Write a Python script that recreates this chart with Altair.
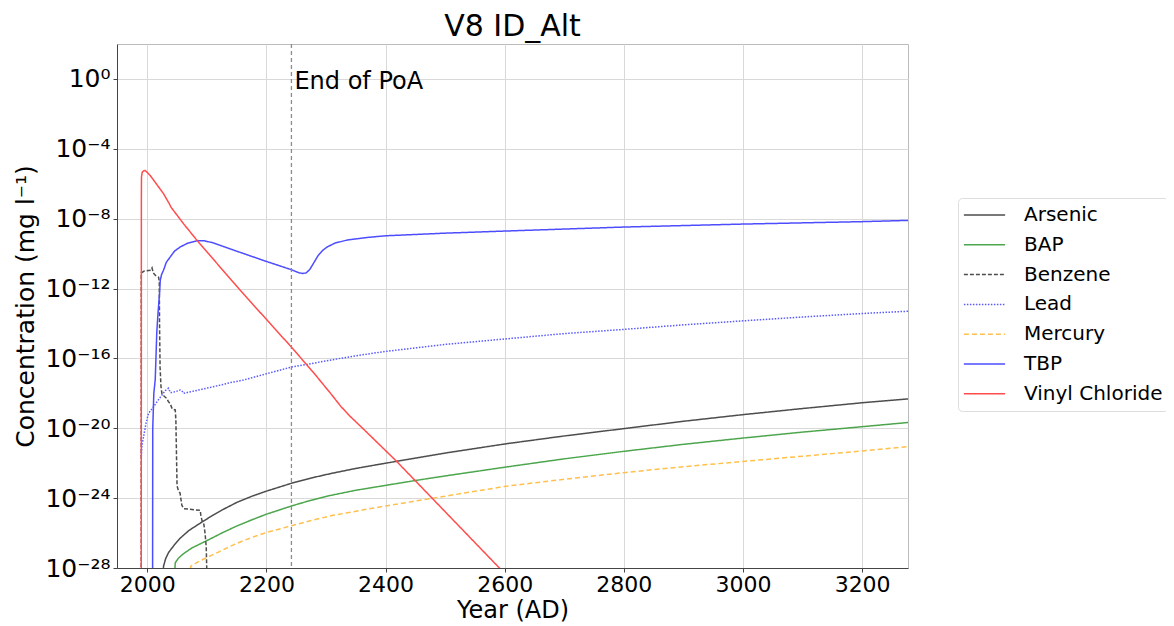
import altair as alt
import pandas as pd

# ---------------- data (log10 of concentration, mg/l) ----------------
series_names = ["Arsenic", "BAP", "Benzene", "Lead", "Mercury", "TBP", "Vinyl Chloride"]

arsenic_year = [2025, 2027.3, 2031, 2036, 2045, 2055, 2070, 2089, 2110, 2130, 2150, 2175, 2200, 2242,
                2275, 2307, 2350, 2400, 2500, 2600, 2700, 2800, 2900, 3000, 3100, 3200, 3277]
arsenic_log = [-29.5, -27.9, -27.45, -27.1, -26.7, -26.3, -25.85, -25.43, -24.98, -24.6, -24.25, -23.9, -23.6,
               -23.15, -22.85, -22.6, -22.3, -22.0, -21.42, -20.9, -20.44, -20.02, -19.6, -19.22, -18.87,
               -18.54, -18.32]

bap_year = [2044, 2047, 2052, 2060, 2075, 2090, 2105, 2125, 2150, 2175, 2200, 2242, 2275, 2307, 2350, 2400,
            2452, 2500, 2600, 2700, 2800, 2900, 3000, 3100, 3200, 3277]
bap_log = [-29.5, -27.7, -27.45, -27.2, -26.85, -26.6, -26.35, -26.0, -25.6, -25.25, -24.92, -24.45, -24.12,
           -23.85, -23.55, -23.27, -22.98, -22.73, -22.23, -21.75, -21.32, -20.92, -20.56, -20.22, -19.91, -19.67]

benzene_year = [1989.9, 1990.0, 1995, 2006, 2008, 2010, 2013.4, 2019, 2020.2, 2020.6, 2021.5, 2023, 2024.7,
                2028, 2033, 2035, 2038.6, 2042, 2047, 2048, 2050, 2052.5, 2055, 2058, 2061, 2075, 2089,
                2090, 2092, 2095, 2097, 2099, 2100.5]
benzene_log = [-30, -11.1, -11.0, -10.95, -10.82, -11.1, -11.24, -11.35, -11.6, -14.0, -16.5, -17.6, -18.05,
               -18.15, -18.3, -18.45, -18.6, -18.9, -18.95, -19.5, -23.3, -23.6, -23.7, -24.4, -24.6, -24.65, -24.7,
               -25.0, -25.3, -25.5, -26.0, -26.8, -29.0]

lead_year = [1990.0, 1991, 1993.8, 1998, 2002.2, 2010.6, 2018, 2024.7, 2030, 2035.7, 2038.6, 2041.4, 2048,
             2055.4, 2058, 2061, 2090, 2122.5, 2139, 2161.6, 2200, 2241.6, 2275, 2320, 2360, 2400, 2500,
             2609, 2700, 2800, 2900, 3000, 3100, 3200, 3277]
lead_log = [-21.62, -21.0, -20.48, -19.7, -19.14, -18.77, -18.4, -18.1, -17.85, -17.71, -17.95, -17.95, -17.9,
            -17.81, -17.85, -18.0, -17.78, -17.53, -17.39, -17.24, -16.88, -16.5, -16.3, -16.02, -15.8, -15.6,
            -15.2, -14.86, -14.58, -14.34, -14.08, -13.85, -13.63, -13.43, -13.30]

mercury_year = [2070, 2073, 2085, 2100, 2122, 2140, 2160, 2180, 2200, 2242, 2275, 2310, 2363, 2400, 2480,
                2600, 2700, 2800, 2900, 3000, 3100, 3200, 3277]
mercury_log = [-29.0, -27.9, -27.65, -27.4, -27.05, -26.75, -26.45, -26.2, -25.97, -25.58, -25.28, -25.0,
               -24.67, -24.45, -24.0, -23.33, -22.92, -22.54, -22.2, -21.9, -21.6, -21.3, -21.05]

tbp_year = [2008.9, 2009.2, 2011, 2013.4, 2016, 2018, 2020.6, 2021.8, 2024, 2027.3, 2032, 2038.6, 2046,
            2055.4, 2068, 2083, 2095, 2110, 2145, 2200, 2240, 2255, 2261, 2267, 2273, 2280, 2287, 2295,
            2302, 2315, 2336, 2368, 2400, 2500, 2600, 2800, 3000, 3200, 3277]
tbp_log = [-30, -20, -18, -17.2, -14.5, -13.43, -12.3, -11.53, -11.2, -10.95, -10.5, -10.19, -9.85,
           -9.62, -9.4, -9.27, -9.26, -9.38, -9.8, -10.45, -10.9, -11.1, -11.14, -11.1, -10.9, -10.5, -10.1, -9.8,
           -9.62, -9.4, -9.22, -9.08, -8.98, -8.83, -8.71, -8.48, -8.31, -8.17, -8.10]

vinyl_year = [1989.9, 1990.0, 1990.1, 1990.3, 1991.5, 1994, 1996.6, 2005, 2027.3, 2036.9, 2039.8, 2060.9,
              2083.4, 2156, 2241.6, 2280, 2310, 2325, 2340, 2360, 2417.3, 2591.1, 2650]
vinyl_log = [-30, -14, -7.0, -5.62, -5.35, -5.26, -5.24, -5.53, -6.57, -7.14, -7.34, -8.29,
             -9.24, -12.1, -15.34, -16.85, -18.1, -18.75, -19.3, -19.95, -21.85, -28.0, -30.1]

# tick values
x_ticks = [2000, 2200, 2400, 2600, 2800, 3000, 3200]
y_tick_exps = [0, -4, -8, -12, -16, -20, -24, -28]

end_of_poa_year = 2242

# ---------------- build table ----------------
all_series = {
    "Arsenic": (arsenic_year, arsenic_log),
    "BAP": (bap_year, bap_log),
    "Benzene": (benzene_year, benzene_log),
    "Lead": (lead_year, lead_log),
    "Mercury": (mercury_year, mercury_log),
    "TBP": (tbp_year, tbp_log),
    "Vinyl Chloride": (vinyl_year, vinyl_log),
}
rows = []
for name, (yrs, lgs) in all_series.items():
    for i, (yr, lg) in enumerate(zip(yrs, lgs)):
        rows.append({"series": name, "year": yr, "conc": 10.0 ** lg, "order": i})
df = pd.DataFrame(rows)

colors = ["#4d4d4d", "#4da64d", "#4d4d4d", "#5a5aff", "#ffc04d", "#4d4dff", "#ff4d4d"]
dashes = [[1, 0], [1, 0], [4, 2], [1.5, 1.5], [5, 3], [1, 0], [1, 0]]
widths = [1.5, 1.5, 1.5, 1.3, 1.6, 2.0, 1.5]

sup = {"0": "⁰", "1": "¹", "2": "²", "3": "³", "4": "⁴", "5": "⁵", "6": "⁶",
       "7": "⁷", "8": "⁸", "9": "⁹", "-": "⁻"}


def supstr(n):
    return "".join(sup[c] for c in str(n))


label_expr = "''"
for e in reversed(y_tick_exps):
    label_expr = f"(round(log(datum.value)/LN10) == {e}) ? '10{supstr(e)}' : {label_expr}"

FONT = "DejaVu Sans"

x_scale = alt.Scale(domain=[1949.2, 3277], nice=False, zero=False)
y_scale = alt.Scale(type="log", domain=[1e-28, 1e2], nice=False)

lines = alt.Chart(df).mark_line(clip=True).encode(
    x=alt.X("year:Q", scale=x_scale,
            axis=alt.Axis(values=x_ticks, title="Year (AD)", format="d", labelFontSize=22,
                          titleFontSize=24, tickSize=4, labelPadding=2, titlePadding=3,
                          labelFlush=False)),
    y=alt.Y("conc:Q", scale=y_scale,
            axis=alt.Axis(values=[10.0 ** e for e in y_tick_exps], labelExpr=label_expr,
                          title="Concentration (mg l⁻¹)", labelFontSize=25, titleFontSize=25,
                          tickSize=4, labelPadding=3, titlePadding=6)),
    color=alt.Color("series:N", scale=alt.Scale(domain=series_names, range=colors), title=None),
    strokeDash=alt.StrokeDash("series:N", scale=alt.Scale(domain=series_names, range=dashes), title=None),
    strokeWidth=alt.StrokeWidth("series:N", scale=alt.Scale(domain=series_names, range=widths), title=None),
    order="order:Q",
)

poa_df = pd.DataFrame({"year": [end_of_poa_year], "label": ["End of PoA"], "conc": [10 ** -0.2]})

rule = alt.Chart(poa_df).mark_rule(color="#8c8c8c", strokeDash=[4, 3], strokeWidth=1.3).encode(
    x="year:Q"
)
text = alt.Chart(poa_df).mark_text(align="left", baseline="middle", dx=3, fontSize=24,
                                   font=FONT, color="black").encode(
    x="year:Q", y="conc:Q", text="label:N"
)

chart = alt.layer(lines, rule, text).properties(
    width=791,
    height=524,
    title=alt.TitleParams("V8 ID_Alt", fontSize=30, font=FONT, fontWeight="normal",
                          anchor="middle", offset=1, color="black"),
    autosize=alt.AutoSizeParams(type="none"),
    padding={"left": 109, "top": 36, "right": 258, "bottom": 58},
).configure_view(
    stroke="#bbbbbb", strokeWidth=1
).configure_axis(
    labelFont=FONT, titleFont=FONT, labelColor="black", titleColor="black",
    titleFontWeight="normal", gridColor="#d9d9d9", gridWidth=1, domainColor="#444444",
    tickColor="#444444", grid=True
).configure_legend(
    orient="none", legendX=841, legendY=154, padding=5, strokeColor="#dddddd",
    cornerRadius=4, fillColor="white", labelFont=FONT, labelFontSize=20, labelColor="black",
    symbolType="stroke", symbolSize=1700, labelOffset=18, rowPadding=5.8, clipHeight=24
)

chart.save("out.html", embed_options={"renderer": "svg", "actions": False})
